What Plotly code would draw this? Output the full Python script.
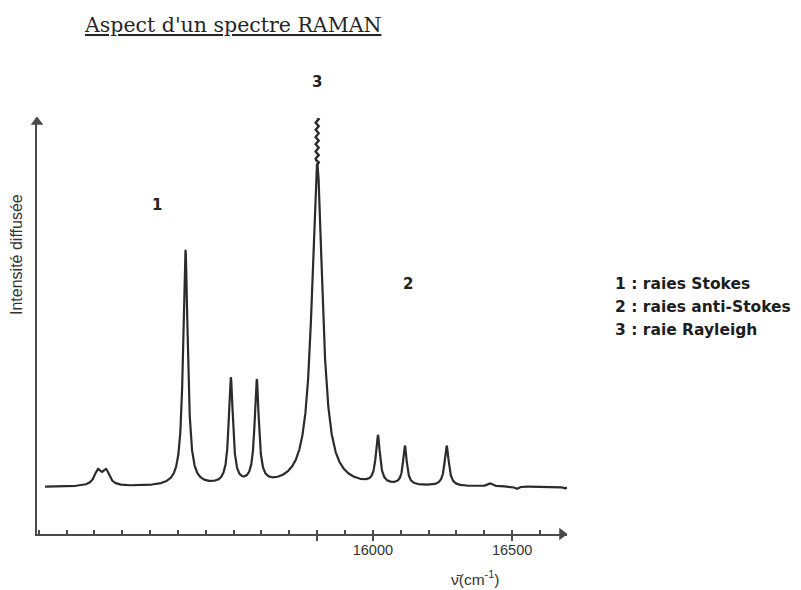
import numpy as np
import plotly.graph_objects as go

# ---- data (wavenumber in cm-1, intensity in arbitrary units) ----
peak_names = ["Stokes 790", "Stokes 762", "Stokes 459", "Stokes 314", "Stokes 218",
              "Rayleigh", "anti-Stokes 218", "anti-Stokes 314", "anti-Stokes 459",
              "bosse", "creux", "creux"]
peak_positions = [15012, 15042, 15327, 15490, 15583, 15800, 16018, 16115, 16265, 16420, 16515, 16688]
peak_heights = [14.5, 14.5, 236, 106, 103, 322, 48, 39, 40, 3, -2.5, -2]
peak_fwhm = [30, 30, 20, 18, 18, 46, 18, 16, 18, 20, 15, 15]

spectrum_start = 14823
spectrum_end = 16697
break_top = 373  # top of the wavy (broken) Rayleigh line

x_range = [14794, 16697]
y_range = [-47, 369]

major_ticks = [15800, 16000, 16500]
major_tick_text = ["", "16000", "16500"]

number_labels = ["1", "2", "3"]
number_x = [15226, 16127, 15800]
number_y = [282, 203, 405]

legend_lines = ["1 : raies Stokes", "2 : raies anti-Stokes", "3 : raie Rayleigh"]

# ---- spectrum as a sum of Lorentzian lines ----
nu = np.linspace(spectrum_start, spectrum_end, 4000)
intensity = np.zeros_like(nu)
for p, h, w in zip(peak_positions, peak_heights, peak_fwhm):
    intensity += h / (1 + ((nu - p) / (w / 2)) ** 2)

line_col = "#2b2b2b"
axis_col = "#4a4a4a"

# page body has an 8px margin: plot area is placed accordingly
OFF = 8
PL, PT, PW, PH = 37 - OFF, 118 - OFF, 530, 416
FW, FH = 801 - OFF, 590 - OFF


def px(xp):
    return (xp - 37) / PW


def py(yp):
    return (534 - yp) / PH


def data_to_paper_x(v):
    return (v - x_range[0]) / (x_range[1] - x_range[0])


def data_to_paper_y(v):
    return (v - y_range[0]) / (y_range[1] - y_range[0])


fig = go.Figure()
fig.add_trace(go.Scatter(x=nu, y=intensity, mode="lines",
                         line=dict(color=line_col, width=2.2), hoverinfo="skip"))

# wavy break above the Rayleigh line (off-scale symbol)
ray_i = peak_names.index("Rayleigh")
ray_top = float(np.interp(peak_positions[ray_i], nu, intensity))
wy = np.linspace(ray_top, break_top, 200)
wx = peak_positions[ray_i] + 6 * np.sin((wy - ray_top) / (break_top - ray_top) * 2 * np.pi * 7)
fig.add_trace(go.Scatter(x=wx, y=wy, mode="lines", line=dict(color=line_col, width=2.4),
                         hoverinfo="skip", cliponaxis=False))

# arrow heads at the ends of the axes
dx = (x_range[1] - x_range[0]) / PW
fig.add_trace(go.Scatter(x=[x_range[1] - 5 * dx], y=[y_range[0]], mode="markers",
                         marker=dict(symbol="triangle-right", size=11, color=axis_col),
                         cliponaxis=False, hoverinfo="skip"))
fig.add_trace(go.Scatter(x=[x_range[0]], y=[y_range[1] - 4], mode="markers",
                         marker=dict(symbol="triangle-up", size=11, color=axis_col),
                         cliponaxis=False, hoverinfo="skip"))

ann = []
ann.append(dict(text="<u>Aspect d'un spectre RAMAN</u>", xref="paper", yref="paper",
                x=px(82), y=py(25), xanchor="left", yanchor="middle",
                showarrow=False, font=dict(family="DejaVu Serif", size=20.5, color="#262626")))
ann.append(dict(text="Intensité diffusée", xref="paper", yref="paper",
                x=px(16), y=py(255), textangle=-90,
                xanchor="center", yanchor="middle", showarrow=False,
                font=dict(family="Liberation Sans", size=16, color="#333333")))
ann.append(dict(text="ν̄(cm<sup>-1</sup>)", xref="paper", yref="paper",
                x=px(475), y=py(578), xanchor="center", yanchor="middle",
                showarrow=False, font=dict(family="Liberation Sans", size=15.5, color="#333333")))
for t, xv, yv in zip(number_labels, number_x, number_y):
    ann.append(dict(text="<b>%s</b>" % t, x=data_to_paper_x(xv), y=data_to_paper_y(yv),
                    xref="paper", yref="paper", xanchor="center", yanchor="middle",
                    showarrow=False,
                    font=dict(family="DejaVu Sans", size=15, color="#222222")))
for i, t in enumerate(legend_lines):
    ann.append(dict(text="<b>%s</b>" % t, xref="paper", yref="paper",
                    x=px(613), y=py(284 + 23 * i),
                    xanchor="left", yanchor="middle", showarrow=False,
                    font=dict(family="DejaVu Sans", size=15.5, color="#1e1e1e")))

fig.update_layout(
    width=FW, height=FH,
    margin=dict(l=PL, r=FW - PL - PW, t=PT, b=FH - PT - PH),
    paper_bgcolor="white", plot_bgcolor="white",
    showlegend=False,
    annotations=ann,
    xaxis=dict(range=x_range, showgrid=False, zeroline=False, showline=True,
               linecolor=axis_col, linewidth=2,
               tickmode="array", tickvals=major_ticks, ticktext=major_tick_text,
               ticks="outside", ticklen=5, tickwidth=2, tickcolor=axis_col,
               ticklabelstandoff=-3,
               tickfont=dict(family="Liberation Sans", size=14.5, color="#333333")),
    yaxis=dict(range=y_range, showgrid=False, zeroline=False, showline=True,
               linecolor=axis_col, linewidth=2, showticklabels=False, ticks=""),
)
fig.update_xaxes(minor=dict(dtick=100, ticks="inside", ticklen=4, tickwidth=1.5,
                            tickcolor=axis_col, showgrid=False))

fig.write_html("out.html")
